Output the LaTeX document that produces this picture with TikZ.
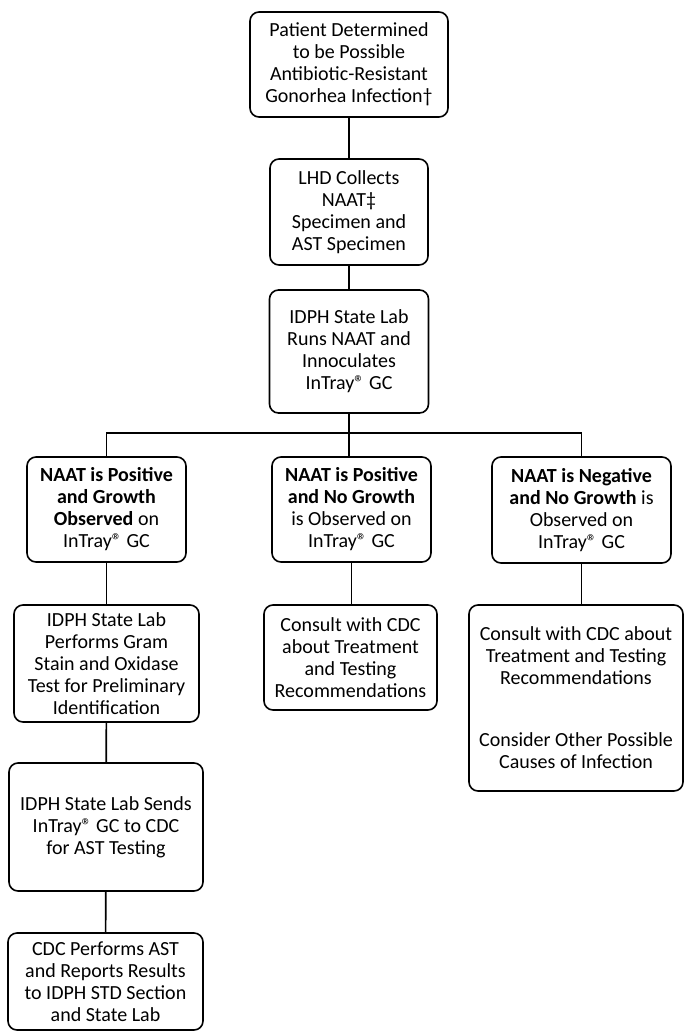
\documentclass[tikz,border=0pt]{standalone}
\usepackage{fontspec}
\setmainfont{Carlito}

\begin{document}
\begin{tikzpicture}[x=1pt, y=1pt, line width=1.6pt, main/.style = {draw, rounded corners=9pt, align=center, inner sep=0pt, font=\fontsize{20}{22}\selectfont}]
        \useasboundingbox (0,0) rectangle (684,-1033);
        \node[main, minimum width=198, minimum height=105] (P) at (349,-64.5) {Patient Determined\\to be Possible\\Antibiotic-Resistant\\Gonorhea Infection\textdagger};
        \node[main, minimum width=158, minimum height=106] (L) at (349,-212) {LHD Collects\\NAAT\textdaggerdbl\\Specimen and\\AST Specimen};
        \node[main, minimum width=159, minimum height=123] (R) at (349,-351.5) {IDPH State Lab\\Runs NAAT and\\Innoculates\\InTray® GC};
        
        \node[main, minimum width=159, minimum height=105] (A1) at (106.5,-509.5) {\textbf{NAAT is Positive}\\\textbf{and Growth}\\\textbf{Observed} on\\InTray® GC};
        \node[main, minimum width=159, minimum height=105] (B1) at (351.5,-509.5) {\textbf{NAAT is Positive}\\\textbf{and No Growth}\\is Observed on\\InTray® GC};
        \node[main, minimum width=179, minimum height=106] (C1) at (581.5,-510) {\textbf{NAAT is Negative}\\\textbf{and No Growth} is\\Observed on\\InTray® GC};
        
        \node[main, minimum width=185, minimum height=117] (A2) at (106.5,-663.5) {IDPH State Lab\\Performs Gram\\Stain and Oxidase\\Test for Preliminary\\Identification};
        \node[main, minimum width=173, minimum height=105] (B2) at (350.5,-657.5) {Consult with CDC\\about Treatment\\and Testing\\Recommendations};
        \node[main, minimum width=214, minimum height=186] (C2) at (576,-698) {Consult with CDC about\\Treatment and Testing\\Recommendations\\[40pt]Consider Other Possible\\Causes of Infection};
        
        \node[main, minimum width=194, minimum height=128] (A3) at (106,-827) {IDPH State Lab Sends\\InTray® GC to CDC\\for AST Testing};
        \node[main, minimum width=195, minimum height=97] (A4) at (105.5,-981.5) {CDC Performs AST\\and Reports Results\\to IDPH STD Section\\and State Lab};
        
        \draw (P) -- (L);
        \draw (L) -- (R);
        \draw (R.south) -- (R.south |- B1.north);
        \draw (A1.north) -- ++(0,23) -| (C1.north);
        
        \draw (A1) -- (A2);
        \draw (B1.south) -- (B1.south |- B2.north);
        \draw (C1.south) -- (C1.south |- C2.north);
        \draw (A2) -- (A3);
        \draw (A3) -- (A4);
    \end{tikzpicture}
\end{document}
